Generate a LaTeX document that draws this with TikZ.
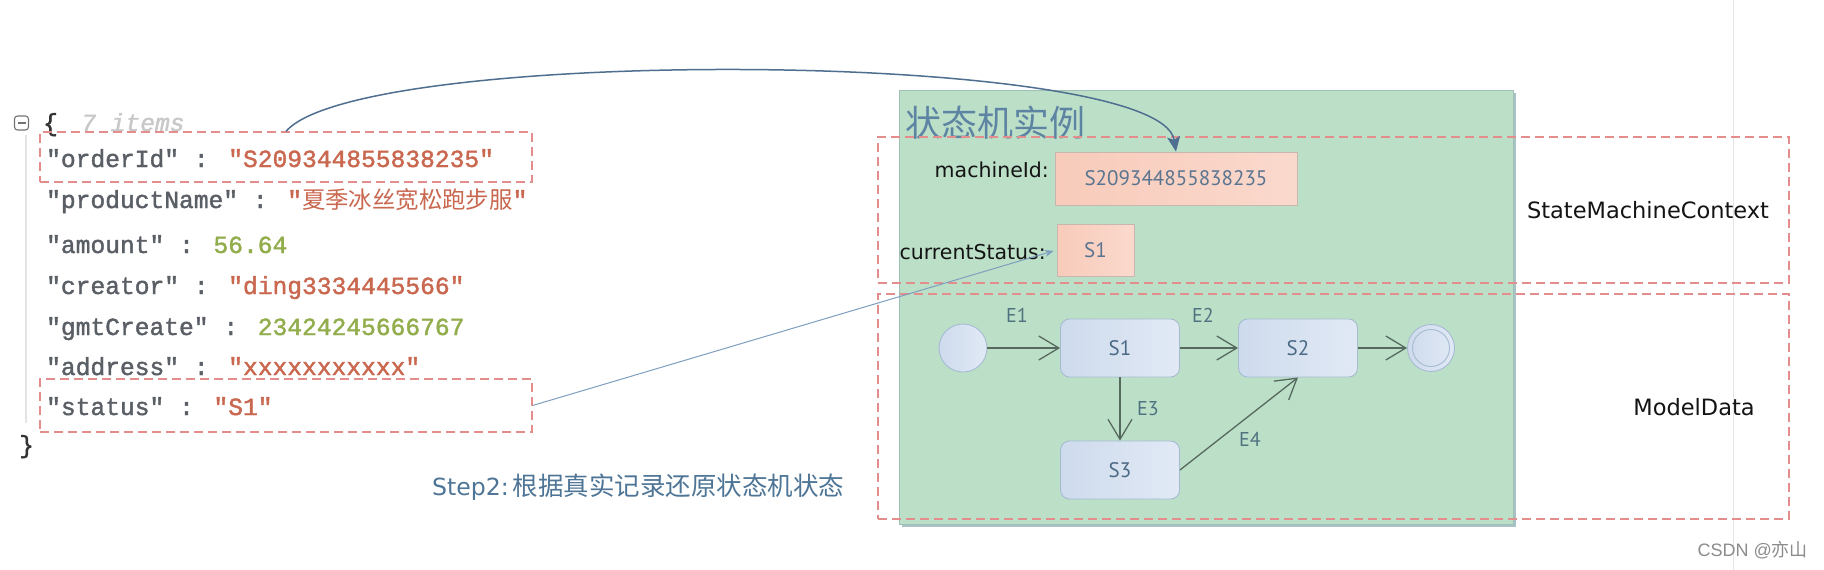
\documentclass[tikz,border=0pt]{standalone}
\usepackage{fontspec}
\usetikzlibrary{arrows.meta}
\newfontfamily\jsonfont[FakeBold=1.6]{Liberation Mono}
\newfontfamily\cjk{Noto Sans CJK SC}
\newfontfamily\labfont{DejaVu Sans}
\newfontfamily\statefont{PT Sans}
\newfontfamily\wmfont{Liberation Sans}

\definecolor{jkey}{HTML}{5A5F66}
\definecolor{jstr}{HTML}{C9674F}
\definecolor{jnum}{HTML}{92AD4C}
\definecolor{jmuted}{HTML}{C8C8C8}
\definecolor{dashc}{HTML}{E38D8D}
\definecolor{greenfill}{HTML}{BCDFC8}
\definecolor{greenedge}{HTML}{A0BFB8}
\definecolor{greenshadow}{HTML}{A9C2C6}
\definecolor{salmonA}{HTML}{F8CBBA}
\definecolor{salmonB}{HTML}{FAD9CD}
\definecolor{salmonedge}{HTML}{C9B6AF}
\definecolor{idtext}{HTML}{5A7590}
\definecolor{stateA}{HTML}{CEDBED}
\definecolor{stateB}{HTML}{E1E9F5}
\definecolor{stateedge}{HTML}{A6BBD2}
\definecolor{statetext}{HTML}{4B6A84}
\definecolor{evtc}{HTML}{4F7280}
\definecolor{titlec}{HTML}{5E84A3}
\definecolor{stepc}{HTML}{4E7596}
\definecolor{linkc}{HTML}{4F6F90}
\definecolor{statusc}{HTML}{7F9FC0}
\definecolor{transc}{HTML}{56695F}
\definecolor{wmc}{HTML}{8C8C8C}
\definecolor{rulec}{HTML}{E4E4E4}

\newcommand\js[1]{\textcolor{jstr}{#1}}
\newcommand\jn[1]{\textcolor{jnum}{#1}}

\tikzset{
  jline/.style={anchor=base west, inner sep=0pt, text=jkey,
    font=\jsonfont\fontsize{24.6}{28}\selectfont},
  dbox/.style={draw=dashc, dash pattern=on 9pt off 5pt, line width=1.2pt,
    inner sep=0pt},
  idbox/.style={draw=salmonedge, line width=0.8pt, left color=salmonA,
    right color=salmonB, inner sep=0pt, text=idtext,
    font=\statefont\fontsize{21}{24}\selectfont},
  statebox/.style={draw=stateedge, line width=0.9pt, left color=stateA,
    right color=stateB, rounded corners=9pt, inner sep=0pt,
    minimum width=119pt, minimum height=58pt, text=statetext,
    font=\statefont\fontsize{21}{24}\selectfont},
  pseudo/.style={circle, draw=stateedge, line width=0.9pt, left color=stateA,
    right color=stateB, inner sep=0pt},
  evt/.style={text=evtc, inner sep=0pt, font=\statefont\fontsize{20}{22}\selectfont},
  trans/.style={draw=transc, line width=1.3pt,
    -{Straight Barb[length=20pt,width=24pt]}},
  lab/.style={inner sep=0pt, text=black!92,
    font=\labfont\fontsize{20.5}{24}\selectfont},
  biglab/.style={inner sep=0pt, text=black!92,
    font=\labfont\fontsize{22.5}{26}\selectfont},
}

\begin{document}
\begin{tikzpicture}[x=1pt, y=-1pt]
\useasboundingbox (0,0) rectangle (1824,570);
\fill[white] (0,0) rectangle (1824,570);

% faint page rule on the right
\draw[rulec, line width=1pt] (1733,0) -- (1733,570);

% ---------- JSON record ----------
\draw[rulec, line width=1.5pt] (26,135) -- (26,423);
\node[draw=black!55, line width=1.1pt, rounded corners=3pt, minimum size=14pt,
      inner sep=0pt] (fold) at (21.5,123) {};
\draw[black!55, line width=1.1pt] ([xshift=-4pt]fold.center) -- ([xshift=4pt]fold.center);
\node[jline, text=black!80] (ob) at (43,131) {\{};
\node[jline, text=jmuted] (cnt) at (81,131) {\itshape 7 items};

\node[jline] (l1) at (46,167) {"orderId" : \js{"S209344855838235"}};
\node[jline] (l2) at (46,208) {"productName" : \js{"{\cjk\fontsize{23.4}{28}\selectfont 夏季冰丝宽松跑步服}"}};
\node[jline] (l3) at (46,253) {"amount" : \jn{56.64}};
\node[jline] (l4) at (46,294) {"creator" : \js{"ding3334445566"}};
\node[jline] (l5) at (46,335) {"gmtCreate" : \jn{23424245666767}};
\node[jline] (l6) at (46,375) {"address" : \js{"xxxxxxxxxxx"}};
\node[jline] (l7) at (46,415) {"status" : \js{"S1"}};
\node[jline, text=black!80] (cb) at (19,453) {\}};

\node[dbox, minimum width=492pt, minimum height=50pt] (oidbox) at (286,157) {};
\node[dbox, minimum width=492pt, minimum height=53pt] (stbox) at (286,405.5) {};

% ---------- state machine instance ----------
\node[fill=greenshadow, minimum width=614pt, minimum height=434pt, inner sep=0pt]
  (instshadow) at (1208.5,309.5) {};
\node[fill=greenfill, draw=greenedge, line width=0.8pt, minimum width=614pt,
      minimum height=434pt, inner sep=0pt] (inst) at (1206,307) {};
\node[anchor=west, inner sep=0pt, text=titlec, font=\cjk\fontsize{36}{40}\selectfont]
  (title) at (905,123) {状态机实例};

\node[lab, anchor=east] (midlab) at (1049,170) {machineId:};
\node[idbox, minimum width=242pt, minimum height=53pt] (mid) at (1176,178.5) {S209344855838235};
\node[lab, anchor=east] (curlab) at (1046,252) {currentStatus:};
\node[idbox, minimum width=77pt, minimum height=52pt] (cur) at (1095.5,250) {S1};

% states
\node[pseudo, minimum size=48pt] (init) at (963,348) {};
\node[statebox] (s1) at (1120,348) {S1};
\node[statebox] (s2) at (1298,348) {S2};
\node[statebox] (s3) at (1120,470) {S3};
\node[pseudo, minimum size=47pt] (fin) at (1431,348) {};
\draw[stateedge, line width=0.9pt] (fin.center) circle (18.5pt);

\draw[trans] (init) -- (s1);
\draw[trans] (s1) -- (s2);
\draw[trans] (s2) -- (fin);
\draw[trans] (s1) -- (s3);
\draw[trans] (s3.east) -- (s2.south);

\node[evt] (e1) at (1017,315) {E1};
\node[evt] (e2) at (1203,315) {E2};
\node[evt] (e3) at (1148,409) {E3};
\node[evt] (e4) at (1250,439) {E4};

% context / data regions
\node[dbox, minimum width=911pt, minimum height=146pt] (ctx) at (1333.5,210) {};
\node[dbox, minimum width=911pt, minimum height=225pt] (mdata) at (1333.5,406.5) {};
\node[biglab] (ctxlab) at (1648,210) {StateMachineContext};
\node[biglab] (mdlab) at (1694,407) {ModelData};

% links from the record into the instance
\draw[linkc, line width=1.5pt, -{Stealth[length=15pt,width=13pt,inset=3pt]}]
  (oidbox.north) .. controls (360,45) and (1160,50) .. (mid.north);
\draw[statusc, line width=1pt, shorten >=3pt, -{Stealth[length=9pt,width=7pt]}]
  (stbox.east) -- (cur.west);

% caption and watermark
\node[anchor=west, inner sep=0pt, text=stepc] (step) at (432,487)
  {{\labfont\fontsize{23.6}{28}\selectfont Step2:}\hspace{4pt}{\cjk\fontsize{25.5}{28}\selectfont 根据真实记录还原状态机状态}};
\node[anchor=east, inner sep=0pt, text=wmc] (wm) at (1808,550)
  {{\wmfont\fontsize{18}{22}\selectfont CSDN @}{\cjk\fontsize{18}{22}\selectfont 亦山}};
\end{tikzpicture}
\end{document}
